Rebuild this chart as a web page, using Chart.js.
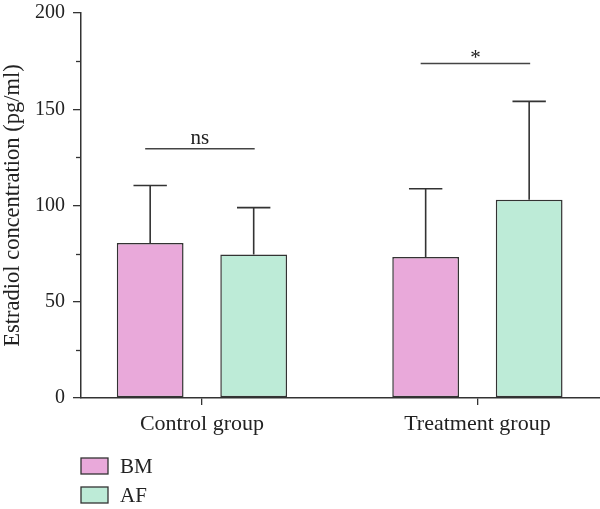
<!DOCTYPE html>
<html>
<head>
<meta charset="utf-8">
<script src="https://cdn.jsdelivr.net/npm/chart.js@4/dist/chart.umd.min.js"></script>
<style>
html,body{margin:0;padding:0;background:#fff;}
#wrap{width:600px;height:509px;}
</style>
</head>
<body>
<div id="wrap"><canvas id="c" width="600" height="509"></canvas></div>
<script>
// ---- data ----
const categories = ['Control group', 'Treatment group'];
const seriesNames = ['BM', 'AF'];
const bmMean = [80.5, 73.2];
const bmSD = [29.9, 35.5];
const afMean = [74.6, 103.0];
const afSD = [24.3, 51.1];
const sigLabels = ['ns', '*'];
const sigLevel = [129.5, 173.8];
const yTicks = [0, 50, 100, 150, 200];
const yMinorTicks = [25, 75, 125, 175];

const FONT = '"Liberation Serif", "Times New Roman", serif';
const INK = '#333333';
const colors = ['#E9A9DA', '#BDEBD7'];

const positions = categories.map((c, i) => i + 1);

const datasets = [
  { label: seriesNames[0], data: positions.map((p, i) => ({x: p, y: bmMean[i]})), sd: bmSD },
  { label: seriesNames[1], data: positions.map((p, i) => ({x: p, y: afMean[i]})), sd: afSD }
].map((d, i) => Object.assign(d, {
  backgroundColor: colors[i],
  borderColor: INK,
  borderWidth: 1.5,
  borderSkipped: false,
  categoryPercentage: 0.7515,
  barPercentage: 0.645
}));

const extras = {
  id: 'extras',
  afterDatasetsDraw(chart) {
    const ctx = chart.ctx;
    const y = chart.scales.y;
    ctx.save();
    ctx.strokeStyle = INK;
    ctx.lineWidth = 1.6;
    // error bars (upper only)
    chart.data.datasets.forEach((ds, di) => {
      const meta = chart.getDatasetMeta(di);
      meta.data.forEach((el, i) => {
        const top = y.getPixelForValue(ds.data[i].y + ds.sd[i]);
        const base = y.getPixelForValue(ds.data[i].y);
        const hw = el.width / 4;
        ctx.beginPath();
        ctx.moveTo(el.x, base);
        ctx.lineTo(el.x, top);
        ctx.moveTo(el.x - hw, top);
        ctx.lineTo(el.x + hw, top);
        ctx.stroke();
      });
    });
    // significance brackets
    const m0 = chart.getDatasetMeta(0), m1 = chart.getDatasetMeta(1);
    categories.forEach((c, i) => {
      const x0 = m0.data[i].x - 5, x1 = m1.data[i].x + 1;
      const ly = y.getPixelForValue(sigLevel[i]);
      ctx.strokeStyle = '#444';
      ctx.lineWidth = 1.5;
      ctx.beginPath();
      ctx.moveTo(x0, ly);
      ctx.lineTo(x1, ly);
      ctx.stroke();
      ctx.fillStyle = '#222';
      ctx.font = '21px ' + FONT;
      ctx.textAlign = 'center';
      ctx.textBaseline = 'alphabetic';
      ctx.fillText(sigLabels[i], (x0 + x1) / 2, sigLabels[i] === '*' ? ly + 1 : ly - 5);
    });
    // minor y ticks
    ctx.strokeStyle = INK;
    ctx.lineWidth = 1.3;
    yMinorTicks.forEach(v => {
      const py = Math.round(y.getPixelForValue(v)) + 0.5;
      ctx.beginPath();
      ctx.moveTo(y.right - 5, py);
      ctx.lineTo(y.right, py);
      ctx.stroke();
    });
    // legend
    chart.data.datasets.forEach((ds, i) => {
      const bx = 81, by = 458 + 29 * i;
      ctx.fillStyle = ds.backgroundColor;
      ctx.fillRect(bx, by, 27, 16);
      ctx.strokeStyle = INK;
      ctx.lineWidth = 1.3;
      ctx.strokeRect(bx, by, 27, 16);
      ctx.fillStyle = '#222';
      ctx.font = '21px ' + FONT;
      ctx.textAlign = 'left';
      ctx.textBaseline = 'middle';
      ctx.fillText(ds.label, 120, by + 9);
    });
    ctx.restore();
  }
};

new Chart(document.getElementById('c'), {
  type: 'bar',
  data: { datasets },
  options: {
    responsive: false,
    animation: false,
    layout: { padding: { left: 0, top: 13, right: 0, bottom: 61 } },
    plugins: { legend: { display: false }, tooltip: { enabled: false } },
    scales: {
      x: {
        type: 'linear',
        offset: false,
        min: 0.561,
        max: 2.445,
        afterBuildTicks(s) { s.ticks = positions.map(v => ({ value: v })); },
        afterFit(s) { s.height = 50; s.paddingLeft = 0; s.paddingRight = 0; },
        ticks: {
          callback: (v) => categories[positions.indexOf(v)] || '',
          font: { family: FONT, size: 22 },
          color: '#222',
          padding: 6,
          maxRotation: 0,
          autoSkip: false
        },
        grid: { offset: false, drawOnChartArea: false, drawTicks: true, tickLength: 7, color: INK, lineWidth: 1.3 },
        border: { display: true, color: INK, width: 1.5 }
      },
      y: {
        min: 0,
        max: 200,
        afterBuildTicks(s) { s.ticks = yTicks.map(v => ({ value: v })); },
        afterFit(s) { s.width = 81; s.paddingTop = 0; s.paddingBottom = 0; },
        ticks: {
          font: { family: FONT, size: 20 },
          color: '#222',
          padding: 8
        },
        grid: { drawOnChartArea: false, drawTicks: true, tickLength: 8, color: INK, lineWidth: 1.3 },
        border: { display: true, color: INK, width: 1.5 },
        title: {
          display: true,
          text: 'Estradiol concentration (pg/ml)',
          font: { family: FONT, size: 22.5 },
          color: '#222',
          padding: { top: 0, bottom: 0 }
        }
      }
    }
  },
  plugins: [extras]
});
</script>
</body>
</html>
